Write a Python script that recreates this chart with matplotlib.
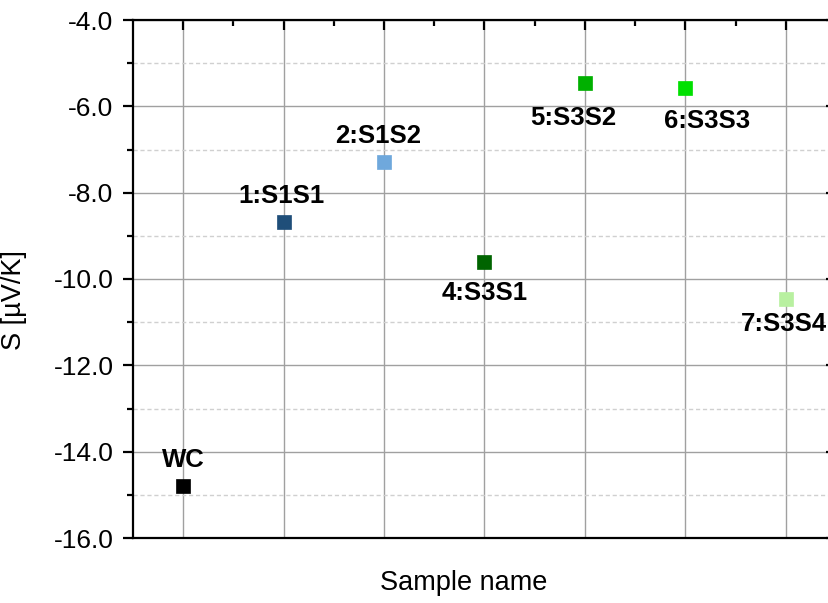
import matplotlib
matplotlib.use("Agg")
import matplotlib.pyplot as plt
from matplotlib.ticker import MultipleLocator, FixedLocator

plt.rcParams['font.family'] = ['Liberation Sans', 'DejaVu Sans']

samples = ["WC", "1:S1S1", "2:S1S2", "4:S3S1", "5:S3S2", "6:S3S3", "7:S3S4"]
seebeck = [-14.80, -8.68, -7.29, -9.61, -5.46, -5.58, -10.46]
colors = ["#000000", "#1f4e79", "#6fa8dc", "#006400", "#00b000", "#00e000", "#b8f0a0"]
# label offsets in pixels (dx, dy of text baseline relative to marker)
label_offsets = [(0, 19), (-2, 19), (-6, 19), (0, -38), (-12, -42), (22, -40), (-2, -32)]

W, H = 829, 603
fig = plt.figure(figsize=(W / 100, H / 100), dpi=100)
L, R, T, B = 133, 836, 20, 538
ax = fig.add_axes([L / W, (H - B) / H, (R - L) / W, (B - T) / H])

xs = list(range(len(samples)))
for x, y, c in zip(xs, seebeck, colors):
    ax.plot(x, y, marker='s', markersize=10.5, color=c, linestyle='none', zorder=5,
            markeredgewidth=0.5, markeredgecolor=c)

for x, y, s, (dx, dy) in zip(xs, seebeck, samples, label_offsets):
    ax.annotate(s, (x, y), xytext=(dx, dy), textcoords='offset pixels',
                ha='center', va='baseline', fontsize=18.5, fontweight='bold', zorder=6)

ax.set_xlim(-0.5, len(samples) - 0.5)
ax.set_ylim(-16, -4)

ax.xaxis.set_major_locator(FixedLocator(xs))
ax.xaxis.set_minor_locator(FixedLocator([x + 0.5 for x in xs[:-1]]))
ax.yaxis.set_major_locator(MultipleLocator(2))
ax.yaxis.set_minor_locator(MultipleLocator(1))
ax.yaxis.set_major_formatter(matplotlib.ticker.FormatStrFormatter('%.1f'))
ax.set_xticklabels([])

ax.grid(True, which='major', axis='both', color='#a0a0a0', linewidth=1.0, linestyle='-')
ax.grid(True, which='minor', axis='y', color='#d0d0d0', linewidth=1.0, linestyle=(0, (3, 2)))
ax.set_axisbelow(True)

for sp in ax.spines.values():
    sp.set_linewidth(1.6)

ax.tick_params(axis='y', which='major', direction='out', length=7, width=1.6,
               labelsize=19, pad=7, right=True)
ax.tick_params(axis='y', which='minor', direction='out', length=4, width=1.6, right=True)
ax.tick_params(axis='x', which='major', direction='in', length=7.5, width=1.6,
               top=True, bottom=False)
ax.tick_params(axis='x', which='minor', direction='in', length=4, width=1.6,
               top=True, bottom=False)
# right ticks point inward
for t in ax.yaxis.get_major_ticks() + ax.yaxis.get_minor_ticks():
    t.tick2line.set_marker(matplotlib.lines.TICKLEFT)

ax.set_xlabel("Sample name", fontsize=19.5)
ax.xaxis.set_label_coords((464 - L) / (R - L), (B - 570) / (B - T))
ax.set_ylabel("S [µV/K]", fontsize=19.5)
ax.yaxis.set_label_coords((27 - L) / (R - L), (B - 300) / (B - T))

fig.savefig("out.png", dpi=100)
